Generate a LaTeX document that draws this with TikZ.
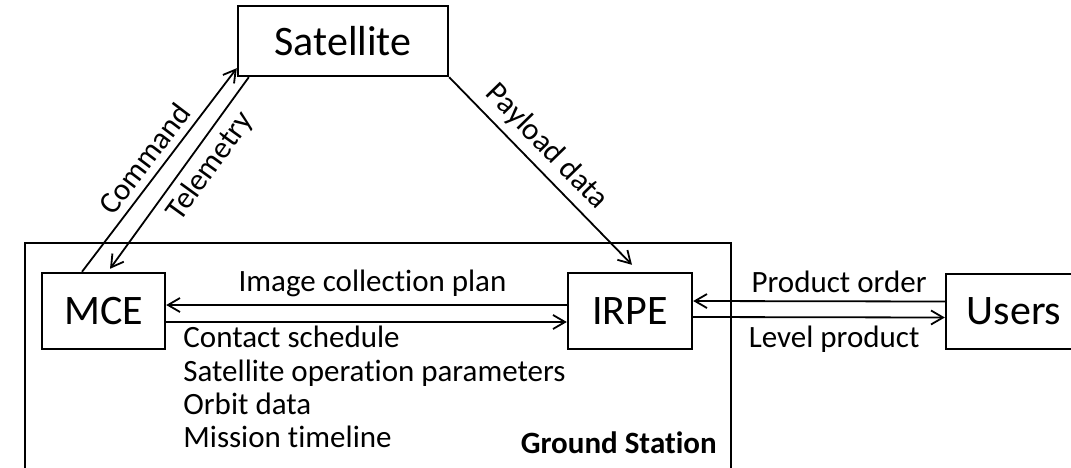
\documentclass[tikz,border=0pt]{standalone}
\usepackage{fontspec}
\setmainfont{Carlito}[Ligatures=NoCommon]
\usetikzlibrary{arrows.meta}

\begin{document}
\begin{tikzpicture}[x=0.5pt,y=-0.5pt]
\tikzstyle{Block} = [draw, line width=1.2pt, inner sep=0, font=\fontsize{21}{25}\selectfont]
\tikzstyle{Link} = [-{Straight Barb[length=6pt,width=7pt]}, line width=0.9pt]
\tikzstyle{Label} = [font=\fontsize{15.5}{18}\selectfont, inner sep=3.5pt]

\useasboundingbox (0,0) rectangle (1071,467);
\clip (0,0) rectangle (1071,467);

% ground station frame, open at the bottom
\draw [line width=1.2pt] (25,243) rectangle (731,520);

\node [Block, minimum width=105pt, minimum height=35pt] (v1) at (343,41) {Satellite};
\node [Block, minimum width=61.5pt, minimum height=38pt] (v2) at (103.5,311) {MCE};
\node [Block, minimum width=62pt, minimum height=38pt] (v3) at (630,311) {IRPE};
\node [Block, minimum width=68pt, minimum height=37.5pt] (v4) at (1014,311.5) {Users};

\draw [Link] ([xshift=-10.75pt]v2.north) -- ([yshift=4.5pt]v1.south west) node [Label, midway, sloped, above] {Command};
\draw [Link] ([xshift=6pt]v1.south west) -- ([xshift=3.25pt,yshift=1.5pt]v2.north) node [Label, pos=0.4, sloped, below] {Telemetry};
\draw [Link] (v1.south east) -- ([xshift=1pt,yshift=3.5pt]v3.north) node [Label, pos=0.45, sloped, above] {Payload data};

\draw [Link] ([yshift=3pt]v3.west) -- ([yshift=3pt]v2.east) node [Label, pos=0.485, above] {Image collection plan};
\draw [Link] ([yshift=-5.5pt]v2.east) -- ([yshift=-5.5pt]v3.west);
\draw [Link] ([yshift=5pt]v4.west) -- ([yshift=5pt]v3.east) node [Label, pos=0.42, above, inner sep=4pt] {Product order};
\draw [Link] ([yshift=-3pt]v3.east) -- ([yshift=-3pt]v4.west) node [Label, pos=0.56, below, inner sep=4pt] {Level product};

\node [Label, anchor=north west, align=left, inner sep=0, font=\fontsize{15.5}{16.65}\selectfont] (v5) at (183,326) {Contact schedule\\Satellite operation parameters\\Orbit data\\Mission timeline};
\node [Label, anchor=base east, inner sep=0, font=\fontsize{15.5}{18}\selectfont\bfseries] (v6) at (717,453) {Ground Station};
\end{tikzpicture}
\end{document}
